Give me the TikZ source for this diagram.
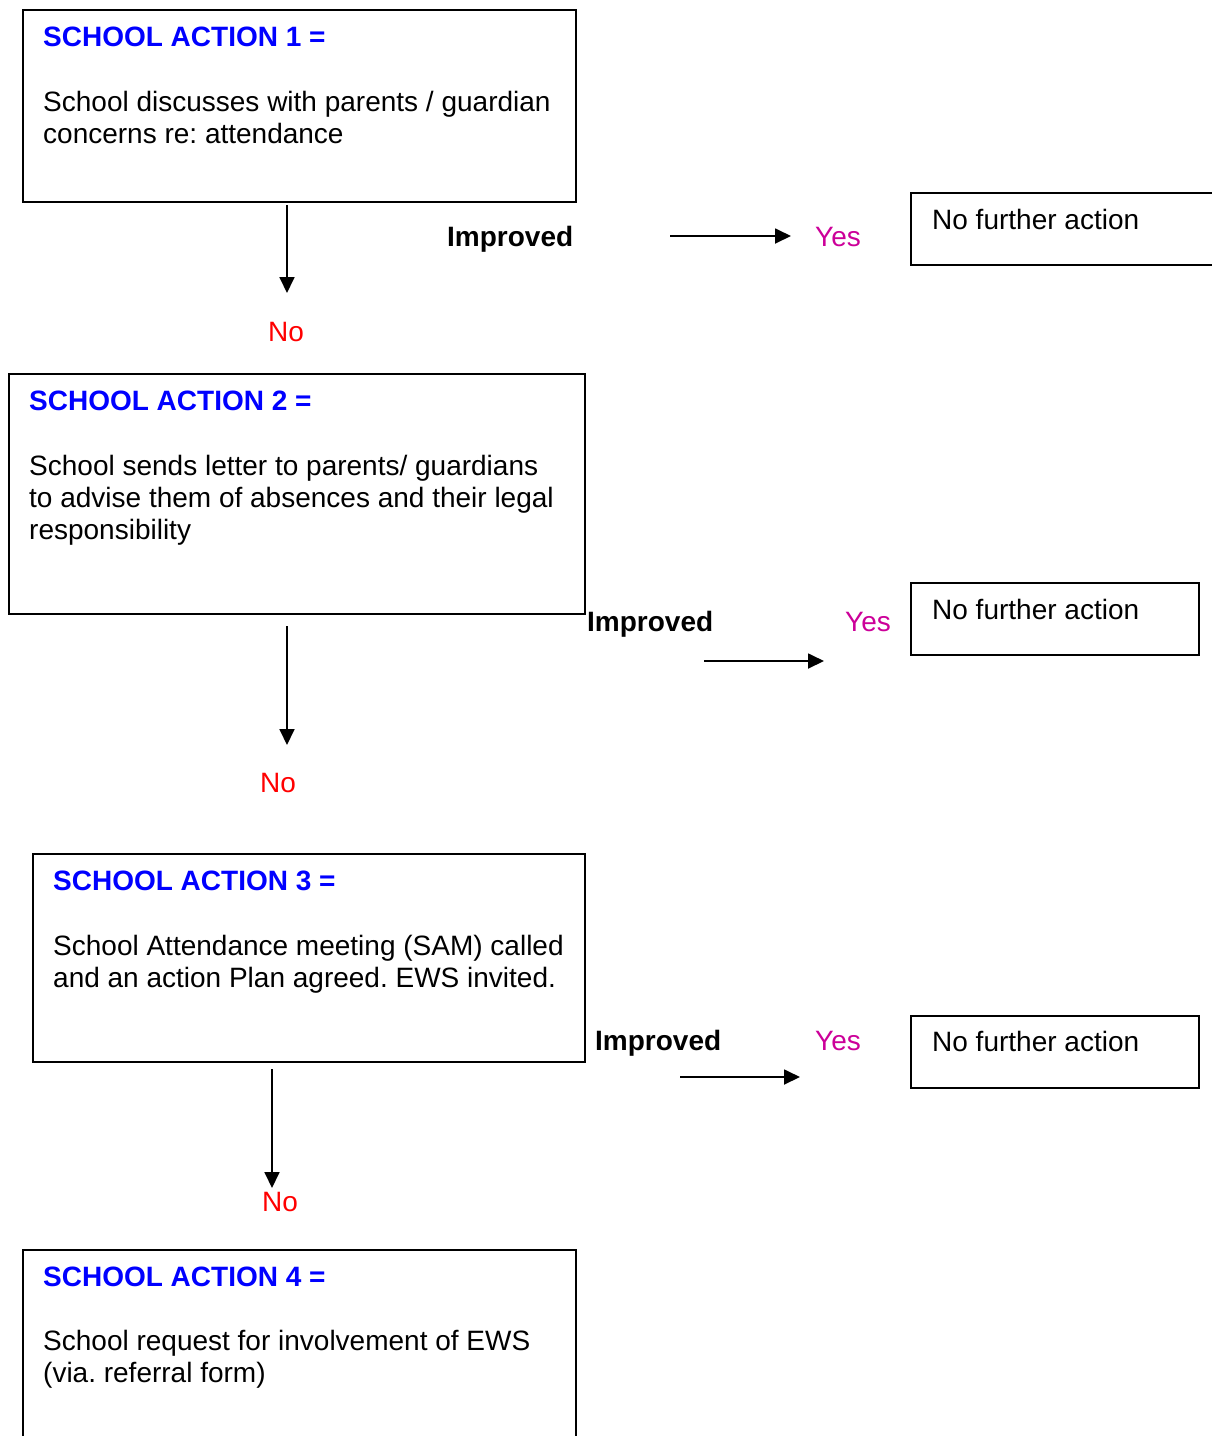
\documentclass[tikz,border=0pt]{standalone}
\usepackage{fontspec}
\setmainfont{Liberation Sans}
\usetikzlibrary{arrows.meta}
\frenchspacing
\definecolor{titleblue}{RGB}{0,0,255}
\definecolor{nored}{RGB}{255,0,0}
\definecolor{yesmag}{RGB}{204,0,153}
\tikzset{
  box/.style={draw=black,line width=1.6pt,anchor=north west,inner sep=0pt},
  txt/.style={anchor=base west,inner sep=0pt,font=\fontsize{28}{32}\selectfont},
  ttl/.style={txt,font=\fontsize{28}{32}\selectfont\bfseries,text=titleblue},
  imp/.style={txt,font=\fontsize{28}{32}\selectfont\bfseries},
  yes/.style={txt,text=yesmag},
  no/.style={txt,text=nored},
  arr/.style={line width=1.8pt,-{Triangle[length=16pt,width=15pt]}}
}
\begin{document}
\begin{tikzpicture}[x=1pt,y=-1pt]
\clip (0,0) rectangle (1212,1436);
\useasboundingbox (0,0) rectangle (1212,1436);
% action boxes
\node[box,minimum width=553pt,minimum height=192pt] (b1) at (22,9) {};
\node[box,minimum width=576pt,minimum height=240pt] (b2) at (8,373) {};
\node[box,minimum width=552pt,minimum height=208pt] (b3) at (32,853) {};
\node[box,minimum width=553pt,minimum height=240pt] (b4) at (22,1249) {};
% no further action boxes
\node[box,minimum width=320pt,minimum height=72pt] (n1) at (910,192) {};
\node[box,minimum width=288pt,minimum height=72pt] (n2) at (910,582) {};
\node[box,minimum width=288pt,minimum height=72pt] (n3) at (910,1015) {};
% texts box 1
\node[ttl] (t1) at (43,46) {SCHOOL ACTION 1 =};
\node[txt] (t1a) at (43,111) {School discusses with parents / guardian};
\node[txt] (t1b) at (43,143) {concerns re: attendance};
% box 2
\node[ttl] (t2) at (29,410) {SCHOOL ACTION 2 =};
\node[txt] (t2a) at (29,475) {School sends letter to parents/ guardians};
\node[txt] (t2b) at (29,507) {to advise them of absences and their legal};
\node[txt] (t2c) at (29,539) {responsibility};
% box 3
\node[ttl] (t3) at (53,890) {SCHOOL ACTION 3 =};
\node[txt] (t3a) at (53,955) {School Attendance meeting (SAM) called};
\node[txt] (t3b) at (53,987) {and an action Plan agreed. EWS invited.};
% box 4
\node[ttl] (t4) at (43,1286) {SCHOOL ACTION 4 =};
\node[txt] (t4a) at (43,1350) {School request for involvement of EWS};
\node[txt] (t4b) at (43,1382) {(via. referral form)};
% no further action texts
\node[txt] (nt1) at (932,229) {No further action};
\node[txt] (nt2) at (932,619) {No further action};
\node[txt] (nt3) at (932,1051) {No further action};
% improved / yes / no labels
\node[imp] (i1) at (447,246) {Improved};
\node[imp] (i2) at (587,631) {Improved};
\node[imp] (i3) at (595,1050) {Improved};
\node[yes] (y1) at (815,246) {Yes};
\node[yes] (y2) at (845,631) {Yes};
\node[yes] (y3) at (815,1050) {Yes};
\node[no] (no1) at (268,341) {No};
\node[no] (no2) at (260,792) {No};
\node[no] (no3) at (262,1211) {No};
% arrow end points
\coordinate (d1s) at (287,205); \coordinate (d1e) at (287,293);
\coordinate (d2s) at (287,626); \coordinate (d2e) at (287,745);
\coordinate (d3s) at (272,1069); \coordinate (d3e) at (272,1188);
\coordinate (h1s) at (670,236); \coordinate (h1e) at (791,236);
\coordinate (h2s) at (704,661); \coordinate (h2e) at (824,661);
\coordinate (h3s) at (680,1077); \coordinate (h3e) at (800,1077);
\draw[arr] (d1s) -- (d1e);
\draw[arr] (d2s) -- (d2e);
\draw[arr] (d3s) -- (d3e);
\draw[arr] (h1s) -- (h1e);
\draw[arr] (h2s) -- (h2e);
\draw[arr] (h3s) -- (h3e);
\end{tikzpicture}
\end{document}
